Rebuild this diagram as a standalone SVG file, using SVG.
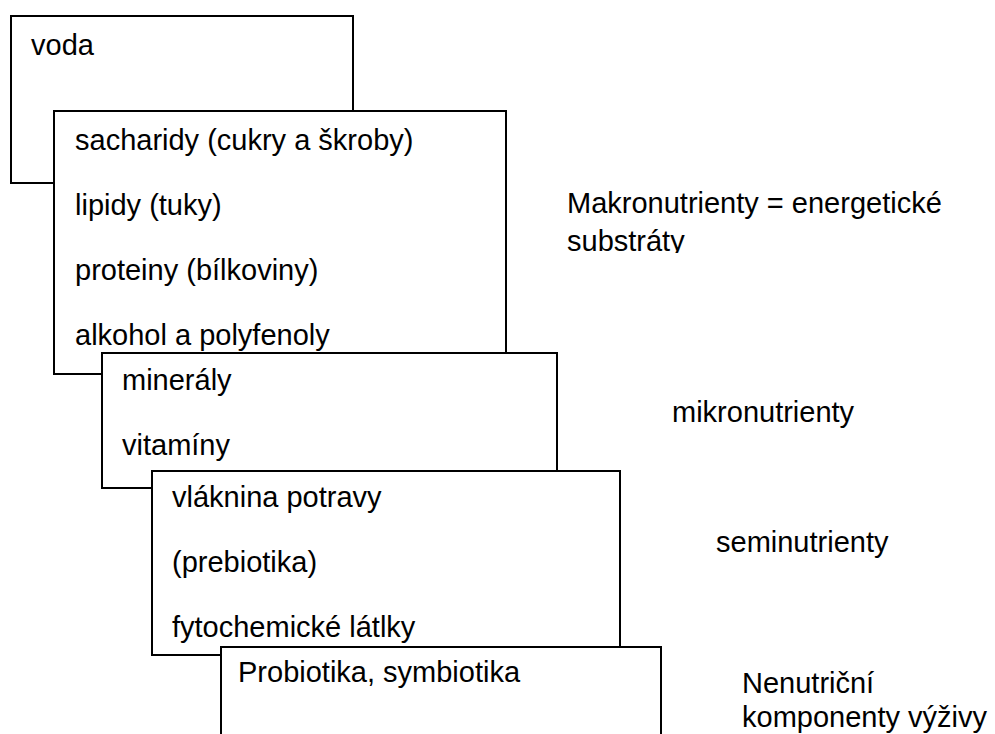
<svg xmlns="http://www.w3.org/2000/svg" width="995" height="734" viewBox="0 0 995 734">
<style>
.box{fill:#fff;stroke:#000;stroke-width:2}
text{font-family:"Liberation Sans",Arial,sans-serif;font-size:29px;fill:#000}
</style>
<defs>
<clipPath id="clipMakro"><rect x="540" y="170" width="455" height="83"/></clipPath>
</defs>
<rect width="995" height="734" fill="#fff"/>
<g id="box-voda">
<rect class="box" x="11" y="16" width="342" height="167"/>
<text x="31" y="55">voda</text>
</g>
<g id="box-makro">
<rect class="box" x="54" y="111" width="452" height="263"/>
<text x="75" y="150">sacharidy (cukry a škroby)</text>
<text x="75" y="215">lipidy (tuky)</text>
<text x="75" y="280">proteiny (bílkoviny)</text>
<text x="75" y="345">alkohol a polyfenoly</text>
</g>
<g id="box-mikro">
<rect class="box" x="102" y="353" width="455" height="135"/>
<text x="122" y="390">minerály</text>
<text x="122" y="455">vitamíny</text>
</g>
<g id="box-semi">
<rect class="box" x="152" y="471" width="468" height="184"/>
<text x="172" y="507">vláknina potravy</text>
<text x="172" y="572">(prebiotika)</text>
<text x="172" y="637">fytochemické látlky</text>
</g>
<g id="box-nenutri">
<rect class="box" x="221" y="647" width="440" height="110"/>
<text x="238" y="682">Probiotika, symbiotika</text>
</g>
<g id="labels">
<g clip-path="url(#clipMakro)">
<text x="567" y="213">Makronutrienty = energetické</text>
<text x="567" y="251">substráty</text>
</g>
<text x="672" y="422">mikronutrienty</text>
<text x="716" y="552">seminutrienty</text>
<text x="742" y="693">Nenutriční</text>
<text x="742" y="727">komponenty výživy</text>
</g>
<g id="connectors"/>
</svg>
